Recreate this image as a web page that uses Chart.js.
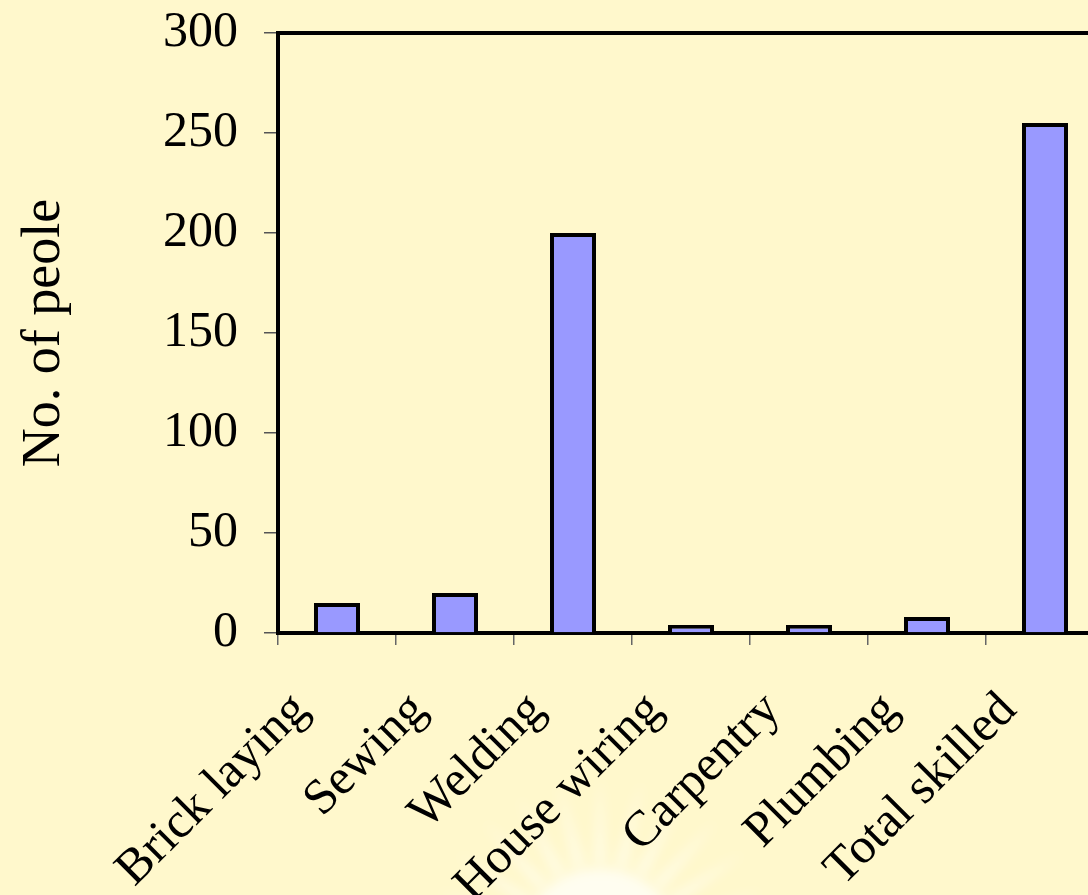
<!doctype html>
<html>

<head>
    <title>Skills</title>
    <meta http-equiv="Content-Type" content="text/html;charset=UTF-8">
    <script src="https://cdn.jsdelivr.net/npm/chart.js@4/dist/chart.umd.min.js"></script>
    <style>
        html, body { margin: 0; padding: 0; background: #fff8cc; overflow: hidden; }
    </style>
</head>

<body>
    <canvas id="grafico" width="1110" height="895"></canvas>
</body>
<script>

    var categorias = ["Brick laying", "Sewing", "Welding", "House wiring", "Carpentry", "Plumbing", "Total skilled"];
    var pessoas = [15, 20, 200, 4, 4, 8, 255];
    var titulo_y = "No. of peole";

    var fonte = "'Liberation Serif', 'Times New Roman', serif";

    // sol apagado no fundo
    var sol = {
        id: 'sol',
        beforeDraw: function (chart) {
            var ctx = chart.ctx, cx = 600, cy = 950;
            ctx.save();
            ctx.filter = 'blur(6px)';
            ctx.fillStyle = 'rgba(255,255,255,0.45)';
            for (var ang = 200; ang <= 340; ang += 14) {
                var r = ang * Math.PI / 180;
                ctx.beginPath();
                ctx.moveTo(cx + Math.cos(r - 0.08) * 85, cy + Math.sin(r - 0.08) * 85);
                ctx.lineTo(cx + Math.cos(r) * 175, cy + Math.sin(r) * 175);
                ctx.lineTo(cx + Math.cos(r + 0.08) * 85, cy + Math.sin(r + 0.08) * 85);
                ctx.fill();
            }
            ctx.fillStyle = 'rgba(255,255,255,0.7)';
            ctx.beginPath();
            ctx.arc(cx, cy, 82, 0, Math.PI * 2);
            ctx.fill();
            ctx.restore();
        }
    };

    // linha de cima da moldura
    var moldura = {
        id: 'moldura',
        afterDraw: function (chart) {
            var ctx = chart.ctx, a = chart.chartArea;
            ctx.save();
            ctx.strokeStyle = '#000';
            ctx.lineWidth = 4;
            ctx.beginPath();
            ctx.moveTo(a.left - 2, a.top);
            ctx.lineTo(a.right + 2, a.top);
            ctx.lineTo(a.right, a.bottom);
            ctx.stroke();
            ctx.restore();
        }
    };

    var grafico = new Chart(document.getElementById("grafico"), {
        type: 'bar',
        data: {
            labels: categorias,
            datasets: [{
                label: titulo_y,
                data: pessoas,
                backgroundColor: '#9999ff',
                borderColor: '#000',
                borderWidth: 4,
                categoryPercentage: 1,
                barPercentage: 0.39
            }]
        },
        options: {
            responsive: false,
            animation: false,
            layout: { padding: { top: 33, right: 6 } },
            plugins: {
                legend: { display: false },
                tooltip: { enabled: false }
            },
            scales: {
                x: {
                    grid: { drawOnChartArea: false, tickLength: 12, color: '#666', lineWidth: 1.5 },
                    border: { color: '#000', width: 4 },
                    ticks: {
                        color: '#000',
                        font: { family: fonte, size: 50 },
                        minRotation: 45,
                        maxRotation: 45,
                        padding: 36,
                        labelOffset: -36
                    },
                    afterFit: function (s) {
                        s.height = 262;
                        s.paddingLeft = 0;
                        s.paddingRight = 0;
                    }
                },
                y: {
                    min: 0,
                    max: 300,
                    grid: { drawOnChartArea: false, tickLength: 14, color: '#555', lineWidth: 1.5 },
                    border: { color: '#000', width: 4 },
                    ticks: {
                        stepSize: 50,
                        color: '#000',
                        padding: 26,
                        font: { family: fonte, size: 50 }
                    },
                    title: {
                        display: true,
                        text: titulo_y,
                        color: '#000',
                        padding: { top: 12, bottom: 0 },
                        font: { family: fonte, size: 54 }
                    },
                    afterFit: function (s) {
                        s.width = 278;
                        s.paddingTop = 0;
                        s.paddingBottom = 0;
                    }
                }
            }
        },
        plugins: [sol, moldura]
    });
</script>

</html>
